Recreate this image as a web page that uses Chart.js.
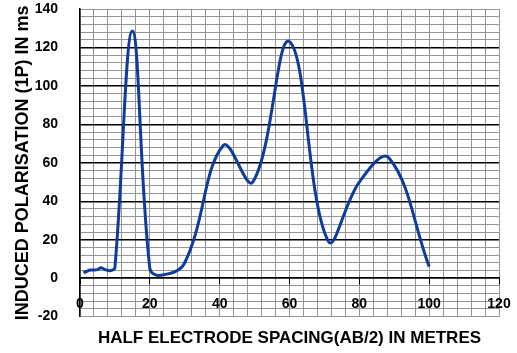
<!DOCTYPE html>
<html>
<head>
<meta charset="utf-8">
<script src="https://cdn.jsdelivr.net/npm/chart.js@4"></script>
<style>
  html, body { margin: 0; padding: 0; background: #fff; }
  #wrap { width: 517px; height: 353px; }
</style>
</head>
<body>
<div id="wrap"><canvas id="chartIP"></canvas></div>
<script>
// Half electrode spacing (AB/2) in metres
const spacing = [1, 2, 3, 4, 5, 6, 7, 8, 9, 10, 15, 20, 23, 30, 41, 49.5, 60, 71, 80, 88.5, 100];
// Induced polarisation (IP) in ms
const ipValues = [2.8, 3.6, 4.2, 4.2, 4.4, 5.4, 4.6, 4, 4, 5.5, 128.5, 5, 1.5, 8, 69, 50, 123, 19.5, 50, 62.5, 6];

const xTicks = [0, 20, 40, 60, 80, 100, 120];
const yTicks = [-20, 0, 20, 40, 60, 80, 100, 120, 140];

const pontos = spacing.map((x, i) => ({ x: x, y: ipValues[i] }));

const fonteTicks = { family: 'Liberation Sans, Arial, sans-serif', size: 14, weight: 'bold' };
const fonteTitulo = { family: 'Liberation Sans, Arial, sans-serif', size: 17, weight: 'bold' };

new Chart(document.getElementById('chartIP'), {
    type: 'line',
    data: {
        datasets: [{
            label: 'IP',
            data: pontos,
            borderColor: '#0d3c9c',
            borderWidth: 3,
            pointRadius: 0,
            tension: 0.4,
            fill: false
        }]
    },
    options: {
        responsive: true,
        maintainAspectRatio: false,
        animation: false,
        layout: { padding: { top: 9, right: 18, bottom: 0, left: 0 } },
        plugins: {
            legend: { display: false },
            tooltip: { enabled: false },
            title: {
                display: true,
                position: 'bottom',
                fullSize: false,
                text: 'HALF ELECTRODE SPACING(AB/2) IN METRES',
                color: '#000',
                font: fonteTitulo,
                padding: { top: 12, bottom: 4 }
            }
        },
        scales: {
            x: {
                type: 'linear',
                position: { y: 0 },
                min: xTicks[0],
                max: xTicks[xTicks.length - 1],
                border: { display: true, color: '#000', width: 1.5 },
                grid: {
                    color: '#959595',
                    lineWidth: 1,
                    drawTicks: true,
                    tickLength: 6,
                    tickColor: ctx => (ctx.tick && xTicks.includes(ctx.tick.value)) ? '#000' : 'rgba(0,0,0,0)'
                },
                ticks: {
                    stepSize: 4,
                    autoSkip: false,
                    maxRotation: 0,
                    padding: 12,
                    color: '#000',
                    font: fonteTicks,
                    callback: v => xTicks.includes(v) ? String(v) : ''
                },
                afterFit: scale => {
                    scale.height = 0;
                    scale.paddingLeft = 0;
                    scale.paddingRight = 0;
                }
            },
            y: {
                type: 'linear',
                min: yTicks[0],
                max: yTicks[yTicks.length - 1],
                border: { display: true, color: '#000', width: 1.5 },
                grid: {
                    drawTicks: false,
                    color: ctx => {
                        const v = ctx.tick ? ctx.tick.value : null;
                        if (v !== null && v % 20 === 0 && v > yTicks[0] && v < yTicks[yTicks.length - 1]) return '#000';
                        return '#959595';
                    },
                    lineWidth: ctx => {
                        const v = ctx.tick ? ctx.tick.value : null;
                        return (v !== null && v % 20 === 0 && v > yTicks[0] && v < yTicks[yTicks.length - 1]) ? 1.5 : 1;
                    }
                },
                ticks: {
                    stepSize: 4,
                    autoSkip: false,
                    padding: 22,
                    color: '#000',
                    font: fonteTicks,
                    callback: v => yTicks.includes(v) ? String(v) : ''
                },
                title: {
                    display: true,
                    text: 'INDUCED POLARISATION (1P) IN ms',
                    color: '#000',
                    font: { family: 'Liberation Sans, Arial, sans-serif', size: 18, weight: 'bold' },
                    padding: { top: 12, bottom: 0 }
                },
                afterFit: scale => {
                    scale.width = 80;
                    scale.paddingTop = 0;
                    scale.paddingBottom = 0;
                }
            }
        }
    }
});
</script>
</body>
</html>
